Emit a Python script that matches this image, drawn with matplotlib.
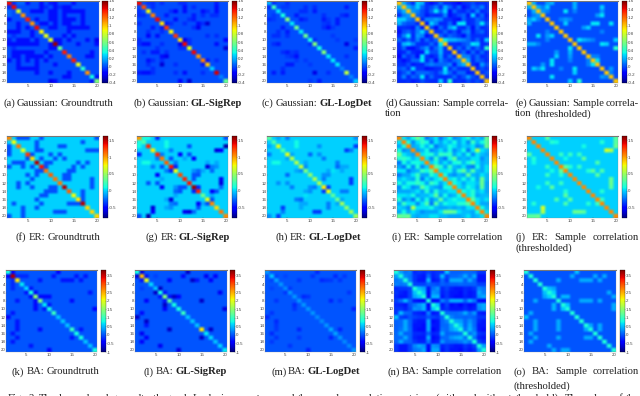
import numpy as np
import matplotlib
matplotlib.use('Agg')
import matplotlib.pyplot as plt

W, H = 640, 396
N = 20

# ---- diagonals ----
gauss_truth_diag = [1.4, 1.4, .85, 1.1, 1.35, 1.1, 1.4, .9, .85, .85, 1.55, .55, 1.35, 1.15, 1.35, .85, .4, 1.1, .35, .6]
gauss_sigrep_diag = [1.4, 1.25, .9, 1.15, 1.4, .95, 1.3, .9, 1.3, .95, 1.4, .85, 1.4, 1.1, 1.15, 1.0, .25, 1.45, .1, .55]
gauss_logdet_diag = [.2, .45, .3, .35, .6, .3, .55, .3, .55, .35, .6, .35, .6, .3, .3, .3, .1, .75, .1, .25]
gauss_sample_diag = [1.0] * N
er_truth_diag = [1.05, .75, 1.1, .7, 1.25, .85, 1.5, 1.35, 1.1, 1.15, 1.1, 1.1, 1.5, 1.15, .75, .8, 1.5, .85, .85, .85]
er_sigrep_diag = [1.0, .25, 1.3, .8, 1.3, 1.1, 1.15, 1.35, .75, 1.2, 1.3, 1.35, 1.55, 1.3, .35, .7, 1.05, .85, 1.1, 1.05]
er_logdet_diag = [.3, .25, .7, .25, .7, .55, .55, .6, .4, .45, .55, .55, .8, .75, .3, .35, .5, .45, .5, .5]
er_sample_diag = [1.05] * N
ba_truth_diag = [.8, 3.6, 2.2, .7, .6, .8, 1.5, 1.4, .7, .8, 1.0, .5, .5, .5, 1.0, .8, .8, .5, .5, .8]
ba_sigrep_diag = [.8, 2.4, 2.0, .6, .5, .8, 1.4, 1.2, .8, .8, 1.0, .5, .5, .5, 2.2, .7, .6, .5, .6, .7]
ba_logdet_diag = [.3, .5, .35, .3, .25, .3, .3, .3, .3, .3, .3, .25, .25, .3, .4, .35, .3, .25, .25, .3]
ba_sample_diag = [.85] * N

# ---- off diagonal cells (row, col, value), mirrored ----
gauss_truth_cells = [(1, 2, -.06), (1, 3, .05), (1, 4, .05), (1, 10, -.1), (2, 9, -.06), (2, 12, -.06), (3, 7, -.12), (3, 10, -.12),
                     (3, 13, -.12), (3, 14, -.12), (3, 15, -.12), (3, 16, -.12), (4, 10, -.12), (4, 13, -.12), (4, 17, -.12), (5, 1, -.12),
                     (5, 7, -.12), (5, 10, -.12), (5, 13, -.12), (5, 14, -.12), (5, 15, -.12), (6, 3, -.12), (6, 9, -.12), (6, 13, -.12),
                     (7, 10, -.12), (8, 1, -.12), (8, 2, -.12), (8, 3, -.12), (8, 6, -.12), (8, 14, -.12), (10, 20, -.12), (11, 1, -.12),
                     (11, 2, -.12), (11, 3, -.12), (11, 4, -.12), (11, 5, -.12), (11, 6, -.12), (11, 7, -.12), (11, 10, -.12), (11, 16, -.12),
                     (11, 20, -.12), (12, 10, -.12), (12, 11, -.12), (13, 2, -.12), (13, 5, -.12), (13, 9, -.12), (13, 19, -.12),
                     (14, 2, -.12), (14, 6, -.12), (14, 7, -.12), (14, 10, -.12), (14, 19, -.12), (15, 1, -.12), (15, 5, -.12), (15, 7, -.12),
                     (15, 9, -.12), (16, 7, -.12), (16, 11, -.12), (17, 3, -.12), (17, 4, -.12), (17, 5, -.12), (17, 6, -.12), (17, 7, -.12),
                     (18, 7, -.12), (18, 10, -.12), (18, 14, -.12), (20, 10, -.2), (20, 19, -.12)]
gauss_sigrep_cells = [(1, 3, -.05), (1, 4, -.06), (1, 6, -.06), (1, 10, -.06), (2, 4, -.06), (3, 9, -.12), (3, 11, -.1), (3, 18, -.06),
                      (4, 7, -.1), (4, 17, -.06), (4, 18, -.1), (5, 9, -.05), (5, 12, -.06), (5, 13, -.06), (6, 16, -.25), (6, 15, -.06),
                      (7, 13, -.06), (7, 14, -.12), (7, 6, -.1), (8, 3, -.06), (8, 6, -.06), (9, 3, -.15), (9, 5, -.12), (9, 18, -.06),
                      (10, 11, -.06), (10, 20, -.12), (11, 1, -.06), (11, 2, -.12), (11, 3, -.12), (11, 10, -.2), (11, 6, -.06), (11, 12, -.06),
                      (12, 10, -.06), (12, 20, -.3), (13, 2, -.06), (13, 5, -.1), (13, 4, -.1), (14, 6, -.12), (14, 7, -.2),
                      (15, 4, -.06), (15, 16, -.1), (16, 6, -.25), (16, 9, -.06), (16, 3, -.06), (18, 1, -.1), (18, 2, -.12), (18, 3, -.12),
                      (18, 4, -.06), (18, 9, -.06), (18, 11, -.12), (18, 15, -.06), (15, 3, -.12), (20, 10, -.15), (20, 12, -.25)]
gauss_logdet_cells = [(1, 2, -.06), (1, 5, -.06), (2, 4, -.04), (2, 5, -.04), (2, 9, -.06), (3, 9, -.1), (3, 11, -.06), (4, 7, -.1),
                      (4, 13, -.06), (4, 17, -.06), (5, 16, -.1), (6, 13, -.04), (6, 14, -.06), (7, 13, -.06), (7, 14, -.06), (8, 3, -.06),
                      (8, 5, -.1), (9, 3, -.06), (9, 5, -.06), (9, 15, -.04), (10, 20, -.04), (11, 2, -.06), (11, 3, -.1),
                      (11, 18, -.22), (11, 10, -.06), (12, 20, -.06), (13, 5, -.1), (14, 7, -.12), (14, 5, -.04), (15, 7, -.04),
                      (16, 6, -.1), (16, 10, -.04), (18, 2, -.1), (18, 4, -.1), (18, 11, -.22), (18, 14, -.06), (20, 12, -.1)]
gauss_thresh_cells = [(1, 2, .2), (1, 5, .3), (1, 6, .2), (2, 3, .2), (2, 4, .1), (2, 5, .25), (2, 11, .2), (3, 9, .3), (3, 11, .25),
                      (3, 4, .15), (3, 5, .1), (4, 17, .25), (5, 8, .1), (5, 9, .15), (5, 10, .1), (5, 1, .15), (6, 16, .3),
                      (7, 13, .15), (7, 14, .25), (8, 17, .1), (9, 6, .25), (10, 12, .2), (10, 13, .2), (10, 14, .15), (10, 20, .25),
                      (11, 1, .2), (11, 2, .2), (11, 3, .1), (11, 18, .25), (12, 10, .3), (13, 10, .2), (14, 10, .15), (15, 10, .1),
                      (15, 6, .3), (15, 14, .1), (16, 15, .2), (15, 16, .3), (16, 14, .1), (17, 2, .25), (17, 3, .15), (17, 4, .3),
                      (16, 4, .15), (17, 11, .3), (19, 6, .3), (19, 17, .15), (20, 10, .25), (20, 12, .4), (18, 19, .1)]

er_truth_cells = [(1, 3, -.3), (1, 4, -.3), (1, 8, -.3), (1, 20, -.3), (2, 7, -.3), (2, 17, -.3), (3, 7, -.3), (3, 12, -.3), (3, 13, -.3),
                  (4, 19, -.3), (5, 1, -.3), (5, 10, -.3), (5, 12, -.3), (5, 6, -.3), (6, 8, -.3), (6, 13, -.3), (7, 2, -.3), (7, 3, -.3),
                  (7, 4, -.3), (7, 9, -.3), (7, 10, -.3), (7, 16, -.3), (7, 18, -.3), (8, 1, -.3), (8, 4, -.3), (8, 9, -.3), (9, 14, -.3),
                  (9, 15, -.3), (10, 5, -.3), (10, 13, -.3), (10, 14, -.3), (11, 6, -.3), (11, 13, -.3), (11, 14, -.3), (11, 19, -.3),
                  (12, 3, -.3), (12, 5, -.3), (12, 19, -.3), (13, 6, -.3), (13, 19, -.3), (14, 9, -.3), (14, 10, -.3), (14, 11, -.3),
                  (14, 17, -.3), (15, 8, -.3), (15, 9, -.3), (15, 17, -.3), (17, 2, -.3), (17, 8, -.3), (17, 14, -.3), (17, 15, -.3),
                  (17, 16, -.3), (18, 4, -.3), (19, 11, -.3), (19, 12, -.3), (19, 13, -.3), (20, 1, -.3), (20, 4, -.3)]
er_sigrep_cells = [(1, 2, .1), (1, 3, -.2), (1, 5, -.4), (1, 20, -.5), (2, 7, -.1), (3, 1, .1), (3, 7, -.1), (3, 20, -.6), (4, 19, -.5),
                   (5, 1, -.4), (5, 10, -.5), (5, 12, -.3), (5, 6, -.3), (6, 5, -.2), (6, 8, -.3), (6, 13, -.4), (7, 2, .1), (7, 3, .1),
                   (7, 9, -.2), (7, 16, -.4), (7, 18, -.1), (8, 4, -.2), (8, 9, -.4), (8, 18, -.15), (9, 14, -.1), (9, 15, -.1),
                   (10, 5, -.5), (10, 13, -.3), (10, 14, -.2), (11, 6, -.1), (11, 19, -.6), (11, 13, -.3), (12, 3, -.3), (12, 5, -.3),
                   (12, 19, -.6), (13, 6, -.5), (13, 9, -.15), (13, 14, -.4), (14, 9, -.25), (14, 10, -.3), (14, 18, -.3), (14, 17, -.15),
                   (16, 7, -.1), (16, 8, -.6), (17, 8, -.2), (17, 9, -.25), (17, 14, -.5), (17, 15, -.1), (17, 16, -.3), (18, 4, -.6),
                   (19, 11, -.55), (19, 12, -.6), (19, 13, -.25), (20, 1, -.3), (20, 3, -.7)]
er_logdet_cells = [(1, 5, -.15), (1, 20, -.2), (1, 3, -.1), (2, 7, .05), (3, 7, .05), (3, 20, -.3), (4, 19, -.2), (5, 1, -.2), (5, 10, -.25),
                   (5, 12, -.2), (6, 5, -.1), (6, 13, -.2), (7, 2, .1), (7, 3, .1), (7, 9, -.1), (7, 16, -.2), (8, 9, -.15), (8, 18, -.1),
                   (9, 14, .05), (9, 15, .05), (10, 5, -.25), (10, 13, -.15), (11, 19, -.3), (11, 13, -.2), (12, 3, -.15), (12, 5, -.15),
                   (12, 19, -.3), (13, 6, -.2), (13, 14, -.35), (14, 9, -.1), (14, 10, -.15), (14, 18, -.2), (14, 17, -.1), (16, 8, -.25),
                   (17, 8, -.1), (17, 9, -.1), (17, 14, -.2), (17, 16, -.1), (18, 4, -.35), (19, 11, -.35), (19, 12, -.35), (20, 1, -.15),
                   (20, 3, -.35), (14, 13, -.35)]
er_thresh_cells = [(1, 5, .25), (1, 20, .35), (2, 7, .1), (2, 17, .15), (2, 20, .3), (4, 19, .55), (5, 1, .3), (5, 10, .2), (5, 12, .2),
                   (6, 9, .2), (6, 2, .15), (7, 16, .25), (8, 5, .2), (8, 9, .3), (8, 12, .2), (8, 10, .15), (9, 6, .1), (10, 16, .3),
                   (11, 19, .3), (12, 19, .35), (12, 5, .2), (13, 6, .3), (13, 3, .1), (14, 9, .15), (15, 9, .3), (17, 16, .2), (17, 14, .15),
                   (17, 9, .25), (18, 4, .65), (19, 11, .35), (19, 12, .35), (19, 13, .3), (20, 1, .3), (20, 3, .35)]

ba_truth_cells = [(1, 2, -.4), (1, 12, -.4), (2, 3, -.2), (2, 4, -.2), (2, 5, -.2), (2, 11, -.3), (2, 16, -.3), (2, 18, -.3), (3, 8, -.3),
                  (3, 13, -.3), (3, 14, -.3), (3, 15, -.3), (3, 17, -.3), (5, 6, -.3), (6, 7, -.35), (6, 19, -.3), (7, 8, -.35), (7, 9, -.35),
                  (7, 10, -.35), (8, 15, -.35), (9, 10, -.3), (10, 20, -.4), (11, 2, -.3), (12, 1, -.4), (15, 17, -.3), (19, 6, -.3), (20, 10, -.4)]
ba_sigrep_cells = [(1, 2, -.6), (1, 12, -.7), (2, 3, -.3), (2, 5, -.1), (2, 11, -.35), (2, 16, -.5), (2, 18, -.4), (3, 8, -.4),
                   (3, 13, -.7), (3, 14, -.3), (3, 17, -.4), (5, 6, -.7), (6, 7, -.3), (6, 19, -.5), (7, 9, -.7), (7, 10, -.4),
                   (7, 8, -.3), (8, 15, -.7), (10, 20, -.5), (12, 1, -.7), (15, 17, -.7), (19, 6, -.5), (20, 10, -.6)]
ba_logdet_cells = [(1, 12, -.2), (2, 3, -.08), (2, 5, -.08), (2, 16, -.2), (2, 18, -.12), (3, 8, -.15), (3, 13, -.2), (3, 14, -.15),
                   (3, 17, -.15), (5, 6, -.12), (6, 19, -.2), (7, 9, -.2), (7, 10, -.15), (8, 15, -.22), (8, 17, -.12), (10, 20, -.2),
                   (11, 2, -.15), (12, 1, -.2), (13, 3, -.2), (14, 3, -.15), (15, 17, -.22), (19, 6, -.15), (20, 10, -.25), (15, 3, -.12)]
ba_thresh_cells = [(1, 12, .5), (2, 11, .4), (2, 16, .4), (2, 18, .4), (3, 8, .4), (3, 13, .4), (3, 14, .4), (3, 15, .4), (3, 17, .4),
                   (5, 6, .5), (5, 7, .4), (6, 7, .6), (6, 19, .4), (7, 9, .45), (7, 10, .45), (7, 20, .4), (8, 13, .4), (8, 14, .4),
                   (8, 15, .4), (8, 17, .4), (9, 10, .55), (9, 20, .4), (10, 20, .4), (12, 1, .5), (14, 15, .4), (14, 17, .4), (15, 17, .4),
                   (6, 5, .5), (9, 7, .45)]

# ---- sample correlation, upper triangle by row ----
gauss_sample_upper = [
    [.2, .05, -.05, .25, .2, -.07, -.12, -.07, .05, -.07, -.07, -.1, -.15, -.07, -.05, .0, -.07, -.05, -.07],
    [.2, .1, .25, .05, -.05, .0, .1, -.05, .2, .05, -.07, .05, -.12, -.07, .05, .0, .1, -.07],
    [.15, .1, .0, -.07, .05, .3, .05, .25, -.12, .05, -.05, -.07, .0, -.05, .1, -.07, -.05],
    [.05, .0, -.1, -.05, -.07, -.05, .1, -.12, -.07, .0, .05, -.1, .25, -.07, .05, -.1],
    [-.07, .1, .1, .15, .1, -.05, -.05, -.1, -.12, .05, -.07, -.05, .05, .0, -.07],
    [-.1, .25, .1, -.07, -.07, .05, -.1, .3, .3, -.07, -.05, .05, .3, .0],
    [.0, -.12, .05, -.05, .15, .25, -.05, -.07, .05, -.12, .05, -.07, -.05],
    [-.05, -.05, .05, -.07, .0, -.1, .05, .1, -.1, .0, .05, -.07],
    [.05, -.05, .05, .0, -.05, -.12, .05, -.07, -.05, -.05, -.07],
    [.3, .2, .2, .15, .1, .05, -.05, .05, -.07, .25],
    [-.05, -.05, -.07, .0, .05, .3, .25, -.07, -.05],
    [-.07, .05, -.05, .1, -.05, .05, -.05, .4],
    [-.05, .05, -.1, .05, -.07, .05, -.07],
    [.1, .1, -.05, .05, -.07, -.05],
    [.2, -.07, .05, .0, -.07],
    [-.05, -.1, .15, .0],
    [-.07, .0, -.05],
    [-.05, .0],
    [-.05],
    [],
]
er_sample_upper = [
    [.05, -.1, .1, .35, .15, -.2, -.1, .05, -.2, -.05, .1, -.15, -.1, .05, .15, -.1, .0, -.1, .35],
    [.1, -.15, .05, .2, .1, -.2, .05, -.1, .05, -.05, .1, -.1, .05, -.15, .2, -.05, .1, .3],
    [-.1, -.05, .1, -.05, .1, -.2, -.1, -.05, .1, .05, -.1, .0, -.05, .05, -.15, -.1, .35],
    [-.1, -.05, .1, -.15, -.1, .05, -.1, .1, -.15, -.05, .1, -.2, .05, .55, .05, -.05],
    [.05, .1, .15, -.05, .2, .15, .2, -.1, .05, -.1, .1, -.15, .05, -.05, -.1],
    [.05, -.15, .2, -.1, -.2, .1, .3, -.1, -.05, -.1, .05, .05, -.15, -.05],
    [.0, .1, -.1, .05, -.1, .1, .15, -.05, .1, .25, .05, -.1, -.05],
    [.3, .15, -.1, .2, -.05, -.1, .05, -.15, -.2, .1, -.1, .05],
    [.05, .05, .1, -.1, .15, .3, -.05, .25, -.05, -.1, .05],
    [.1, -.1, -.15, -.05, -.1, .3, -.05, -.1, .05, -.05],
    [.05, .1, -.05, .1, -.05, .1, -.1, .35, -.05],
    [.1, .05, -.1, .05, .05, -.05, .35, -.1],
    [.05, -.05, .1, .05, -.1, .3, -.1],
    [.1, .05, .15, -.05, .05, -.1],
    [.05, .15, -.1, -.05, -.05],
    [.3, .05, -.05, .05],
    [.05, -.1, -.1],
    [.1, -.05],
    [.05],
    [],
]
ba_sample_upper = [
    [.35, .15, .2, -.2, -.15, -.2, -.1, -.2, -.15, -.15, .5, .05, .05, .05, .1, .1, .05, -.15, -.15],
    [.25, .15, -.15, -.25, -.3, .1, -.25, -.15, .45, -.1, .1, .1, .15, .4, .1, .4, -.3, -.3],
    [.2, -.15, -.3, -.3, .45, -.3, -.25, .1, -.15, .4, .4, .4, .05, .4, .1, -.3, -.3],
    [-.1, -.1, -.1, .05, .0, -.05, .05, .0, .05, .05, .1, .05, .05, .05, -.1, -.1],
    [.5, .4, -.3, .15, .3, -.2, -.1, -.25, -.3, -.3, -.2, -.25, -.15, .25, .15],
    [.55, -.35, .3, .25, -.25, -.15, -.3, -.3, -.35, -.2, -.3, -.25, .4, .2],
    [-.35, .45, .45, -.3, -.15, -.3, -.35, -.35, -.25, -.3, -.25, .3, .4],
    [-.4, -.35, .2, .0, .4, .4, .4, .05, .4, .15, -.35, -.4],
    [.55, -.3, -.1, -.35, -.3, -.4, -.25, -.35, -.3, .3, .4],
    [-.25, -.15, -.3, -.3, -.3, -.2, -.3, -.25, .25, .4],
    [.1, .1, .1, .15, .4, .1, .3, -.25, -.3],
    [.2, .1, .1, .05, .1, .05, -.15, -.15],
    [.4, .35, .1, .3, .1, -.25, -.3],
    [.5, .1, .4, .1, -.3, -.3],
    [.15, .45, .15, -.3, -.35],
    [.15, .3, -.15, -.2],
    [.15, -.25, -.3],
    [-.1, -.2],
    [.35],
    [],
]

# ---- colour ranges and colorbar ticks ----
gauss_range = (-.4, 1.6)
er_range = (-.8, 1.62)
ba_range = (-1, 3.8)
gauss_cticks = [-.4, -.2, 0, .2, .4, .6, .8, 1, 1.2, 1.4, 1.6]
er_cticks = [-.5, 0, .5, 1, 1.5]
ba_cticks = [-1, -.5, 0, .5, 1, 1.5, 2, 2.5, 3, 3.5]
xticks = [5, 10, 15, 20]
yticks = [2, 4, 6, 8, 10, 12, 14, 16, 18, 20]

plt.rcParams['font.family'] = 'Liberation Sans'


def from_cells(diag, cells):
    m = np.zeros((N, N))
    for r, c, v in cells:
        m[r - 1, c - 1] = v
        m[c - 1, r - 1] = v
    m[np.arange(N), np.arange(N)] = diag
    return m


def from_upper(diag, upper):
    m = np.zeros((N, N))
    for i, row in enumerate(upper):
        for k, v in enumerate(row):
            m[i, i + 1 + k] = v
            m[i + 1 + k, i] = v
    m[np.arange(N), np.arange(N)] = diag
    return m


def fmt(v):
    return ('%g' % v)


def panel(fig, x0, x1, cx0, cx1, y0, y1, m, rng, cticks):
    ax = fig.add_axes([x0 / W, 1 - y1 / H, (x1 - x0) / W, (y1 - y0) / H])
    # soft cell edges, the reference is a small scan of a bigger picture
    im = ax.imshow(m, cmap='jet', vmin=rng[0], vmax=rng[1], aspect='auto', interpolation='hermite',
                   interpolation_stage='rgba', extent=(.5, 20.5, 20.5, .5))
    ax.set_xticks(xticks)
    ax.set_yticks(yticks)
    ax.tick_params(labelsize=3.2, length=.8, width=.2, pad=.5, direction='in', colors='#444444')
    for s in ax.spines.values():
        s.set_linewidth(.2)
        s.set_color('#888888')
    ax.spines['top'].set_linewidth(.8)
    ax.spines['top'].set_color('#777777')

    cax = fig.add_axes([cx0 / W, 1 - y1 / H, (cx1 - cx0) / W, (y1 - y0) / H])
    cb = fig.colorbar(im, cax=cax, ticks=cticks)
    cb.ax.set_yticklabels([fmt(t) for t in cticks])
    cb.ax.tick_params(labelsize=3.2, length=.6, width=.2, pad=.6, direction='in', colors='#444444')
    cb.outline.set_linewidth(.2)
    return ax


def caption(fig, x0, x1, y, words, size=7.7):
    # lay the words out one by one so that a line fills x0..x1 like the justified original
    r = fig.canvas.get_renderer()
    items = []
    total = 0
    for word, bold in words:
        t = fig.text(x0 / W, 1 - y / H, word, family='Liberation Serif', fontsize=size, va='center', ha='left',
                     fontweight='bold' if bold else 'normal', color='#222222')
        w = t.get_window_extent(r).width
        items.append((t, w))
        total += w
    gap = 2.4
    if x1 is not None and len(items) > 1:
        gap = (x1 - x0 - total) / (len(items) - 1)
    x = x0
    for t, w in items:
        t.set_x(x / W)
        x += w + gap


def words(s, bold_word=None):
    return [(w, w == bold_word) for w in s.split()]


fig = plt.figure(figsize=(W / 100, H / 100), dpi=100)

row1 = (1, 83)
row2 = (136, 218)
row3 = (270, 352)

panel(fig, 7, 99, 102, 108, *row1, from_cells(gauss_truth_diag, gauss_truth_cells), gauss_range, gauss_cticks)
panel(fig, 137, 228, 232, 237, *row1, from_cells(gauss_sigrep_diag, gauss_sigrep_cells), gauss_range, gauss_cticks)
panel(fig, 267, 358, 362, 367, *row1, from_cells(gauss_logdet_diag, gauss_logdet_cells), gauss_range, gauss_cticks)
panel(fig, 397, 488, 492, 497, *row1, from_upper(gauss_sample_diag, gauss_sample_upper), gauss_range, gauss_cticks)
panel(fig, 527, 618, 622, 627, *row1, from_cells(gauss_sample_diag, gauss_thresh_cells), gauss_range, gauss_cticks)

panel(fig, 7, 99, 103, 108, *row2, from_cells(er_truth_diag, er_truth_cells), er_range, er_cticks)
panel(fig, 137, 228, 232, 237, *row2, from_cells(er_sigrep_diag, er_sigrep_cells), er_range, er_cticks)
panel(fig, 267, 358, 362, 367, *row2, from_cells(er_logdet_diag, er_logdet_cells), er_range, er_cticks)
panel(fig, 397, 488, 492, 497, *row2, from_upper(er_sample_diag, er_sample_upper), er_range, er_cticks)
panel(fig, 527, 618, 622, 627, *row2, from_cells(er_sample_diag, er_thresh_cells), er_range, er_cticks)

panel(fig, 6, 97, 101, 106, *row3, from_cells(ba_truth_diag, ba_truth_cells), ba_range, ba_cticks)
panel(fig, 135, 227, 230, 235, *row3, from_cells(ba_sigrep_diag, ba_sigrep_cells), ba_range, ba_cticks)
panel(fig, 265, 356, 360, 365, *row3, from_cells(ba_logdet_diag, ba_logdet_cells), ba_range, ba_cticks)
panel(fig, 394, 486, 490, 495, *row3, from_upper(ba_sample_diag, ba_sample_upper), ba_range, ba_cticks)
panel(fig, 524, 616, 620, 625, *row3, from_cells(ba_sample_diag, ba_thresh_cells), ba_range, ba_cticks)

fig.canvas.draw()

caption(fig, 3, 113, 103, words('(a) Gaussian: Groundtruth'))
caption(fig, 133, 242, 103, words('(b) Gaussian: GL-SigRep', 'GL-SigRep'))
caption(fig, 262, 372, 103, words('(c) Gaussian: GL-LogDet', 'GL-LogDet'))
caption(fig, 385, 509, 103, words('(d) Gaussian: Sample correla-'))
caption(fig, 385, None, 114, words('tion'))
caption(fig, 515, 639, 103, words('(e) Gaussian: Sample correla-'))
caption(fig, 515, None, 114, words('tion (thresholded)'))

caption(fig, 16, 100, 237, words('(f) ER: Groundtruth'))
caption(fig, 146, 230, 237, words('(g) ER: GL-SigRep', 'GL-SigRep'))
caption(fig, 275, 361, 237, words('(h) ER: GL-LogDet', 'GL-LogDet'))
caption(fig, 392, 503, 237, words('(i) ER: Sample correlation'))
caption(fig, 515, 639, 237, words('(j) ER: Sample correlation'))
caption(fig, 515, None, 248, words('(thresholded)'))

caption(fig, 12, 99, 372, words('(k) BA: Groundtruth'))
caption(fig, 144, 227, 372, words('(l) BA: GL-SigRep', 'GL-SigRep'))
caption(fig, 271, 360, 372, words('(m) BA: GL-LogDet', 'GL-LogDet'))
caption(fig, 387, 502, 372, words('(n) BA: Sample correlation'))
caption(fig, 513, 639, 372, words('(o) BA: Sample correlation'))
caption(fig, 513, None, 386, words('(thresholded)'))

# the figure caption is cut by the bottom edge in the reference
caption(fig, 8, 639, 398.5, words('Fig. 2. The learned and groundtruth graph Laplacian matrices, and the sample correlation matrices (with and without threshold). The values of the'))

fig.savefig('out.png', dpi=100)
